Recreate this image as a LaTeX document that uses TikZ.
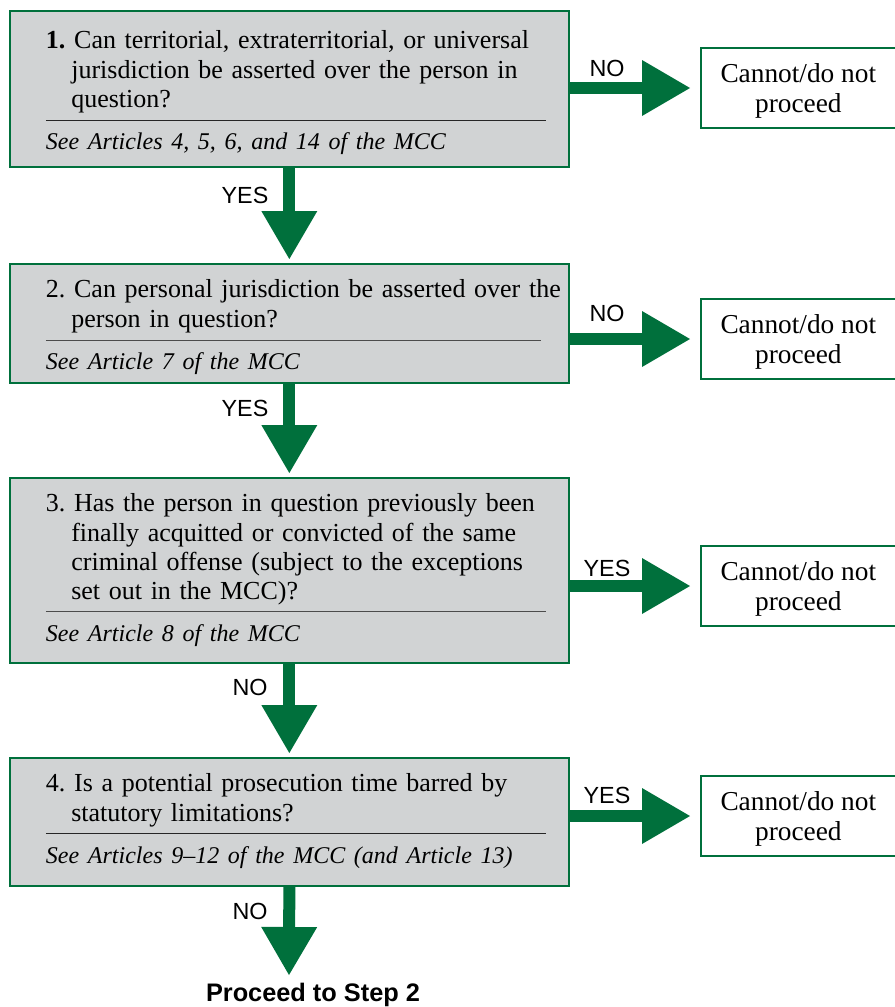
\documentclass[tikz,border=0pt]{standalone}
\usepackage{fontspec}
\setmainfont{Liberation Serif}
\setsansfont{Liberation Sans}
\usepackage{xcolor}
\usepackage{tikz}
\usetikzlibrary{arrows.meta}
\definecolor{flowgreen}{RGB}{0,112,60}
\definecolor{boxgray}{RGB}{209,211,212}
\frenchspacing

\begin{document}
\begin{tikzpicture}[x=0.75pt, y=-0.75pt,
  qbox/.style={draw=flowgreen, line width=1.5pt, fill=boxgray, anchor=north west, minimum width=419pt, text width=419pt, inner xsep=0pt, inner ysep=0pt, align=left, font=\fontsize{19.5}{22}\selectfont},
  stopbox/.style={draw=flowgreen, line width=1.5pt, fill=white, anchor=north west, minimum width=146pt, minimum height=60pt, inner sep=0pt, text depth=0pt, align=center, font=\fontsize{20.5}{22}\selectfont},
  answer/.style={font=\sffamily\fontsize{17.5}{20}\selectfont},
  flowarrow/.style={color=flowgreen, line width=9pt, -{Triangle[length=36pt, width=42pt, line width=0pt]}}]
\useasboundingbox (0,0) rectangle (895,1007);
%questions
\node[qbox] (q1) at (9,10) {\hspace*{27pt}\parbox[c][117pt][t]{395pt}{\vspace*{14.8pt}\hangindent=19pt\hangafter=1 \textbf{1.} Can territorial, extraterritorial, or universal\\ jurisdiction be asserted over the person in\\ question?\strut\par\vspace{3pt}{\color{black!85}\hrule height 0.8pt width 375pt}\vspace{6pt}\strut\fontsize{18}{22}\selectfont\itshape See Articles 4, 5, 6, and 14 of the MCC}};
\node[qbox] (q2) at (9,263) {\hspace*{27pt}\parbox[c][89.25pt][t]{395pt}{\vspace*{11.8pt}\hangindent=19pt\hangafter=1 2. Can personal jurisdiction be asserted over the\\ person in question?\strut\par\vspace{3pt}{\color{black!70}\hrule height 0.8pt width 371pt}\vspace{6pt}\strut\fontsize{18}{22}\selectfont\itshape See Article 7 of the MCC}};
\node[qbox] (q3) at (9,477) {\hspace*{27pt}\parbox[c][138.75pt][t]{395pt}{\vspace*{11.8pt}\hangindent=19pt\hangafter=1 3. Has the person in question previously been\\ finally acquitted or convicted of the same\\ criminal offense (subject to the exceptions\\ set out in the MCC)?\strut\par\vspace{2pt}{\color{black!70}\hrule height 0.8pt width 375pt}\vspace{6.5pt}\strut\fontsize{18}{22}\selectfont\itshape See Article 8 of the MCC}};
\node[qbox] (q4) at (9,757) {\hspace*{27pt}\parbox[c][96pt][t]{395pt}{\vspace*{11.8pt}\hangindent=19pt\hangafter=1 4. Is a potential prosecution time barred by\\ statutory limitations?\strut\par\vspace{2.5pt}{\color{black!85}\hrule height 0.8pt width 375pt}\vspace{6.5pt}\strut\fontsize{18}{22}\selectfont\itshape See Articles 9--12 of the MCC (and Article 13)}};
%outcomes
\node[stopbox] (r1) at (700,47) {Cannot/do not\\proceed};
\node[stopbox] (r2) at (700,298) {Cannot/do not\\proceed};
\node[stopbox] (r3) at (700,545) {Cannot/do not\\proceed};
\node[stopbox] (r4) at (700,775) {Cannot/do not\\proceed};
\node[font=\sffamily\bfseries\fontsize{19}{22}\selectfont] (step2) at (313,995) {Proceed to Step 2};
\coordinate (end4) at (289,975);
%arrows
\draw [flowarrow, shorten >=3pt] (q1.south) -- (q2.north);
\draw [flowarrow, shorten >=3pt] (q2.south) -- (q3.north);
\draw [flowarrow, shorten >=3pt] (q3.south) -- (q4.north);
\draw [flowarrow] (q4.south) -- (end4);
\draw [flowarrow, shorten >=7.5pt] (q1.east |- r1.west) -- (r1.west);
\draw [flowarrow, shorten >=7.5pt] (q2.east |- r2.west) -- (r2.west);
\draw [flowarrow, shorten >=7.5pt] (q3.east |- r3.west) -- (r3.west);
\draw [flowarrow, shorten >=7.5pt] (q4.east |- r4.west) -- (r4.west);
%answers
\node[answer] (yes1) at (245,195) {YES};
\node[answer] (yes2) at (245,408) {YES};
\node[answer] (no3) at (250,687) {NO};
\node[answer] (no4) at (250,911) {NO};
\node[answer] (no1) at (607,68) {NO};
\node[answer] (no2) at (607,313) {NO};
\node[answer] (yes3) at (607,568) {YES};
\node[answer] (yes4) at (607,795) {YES};
\end{tikzpicture}
\end{document}
